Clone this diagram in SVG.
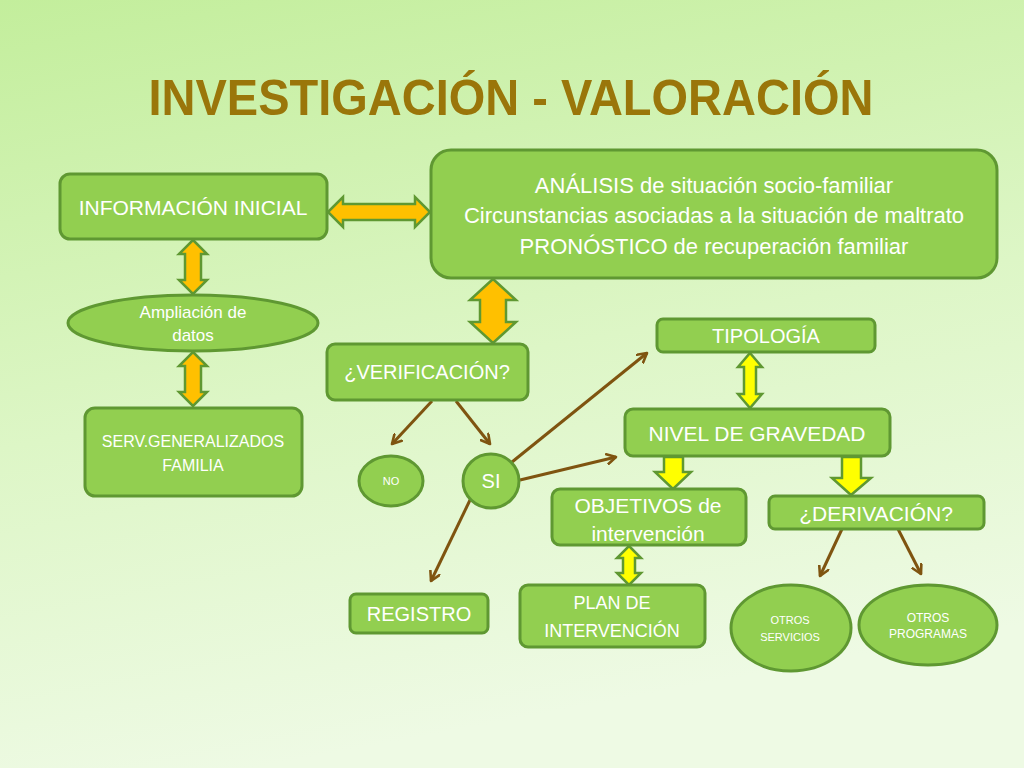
<svg xmlns="http://www.w3.org/2000/svg" width="1024" height="768" viewBox="0 0 1024 768">
<defs>
<linearGradient id="bg" x1="0" y1="0" x2="0.25" y2="1">
<stop offset="0" stop-color="#c3ee9c"/>
<stop offset="0.55" stop-color="#ddf6c6"/>
<stop offset="1" stop-color="#eefae4"/>
</linearGradient>
<marker id="ah" viewBox="0 0 12 12" refX="10" refY="6" markerWidth="12" markerHeight="12" markerUnits="userSpaceOnUse" orient="auto">
<path d="M1,1 L10,6 L1,11" fill="none" stroke="#7f5410" stroke-width="2.6" stroke-linecap="round" stroke-linejoin="round"/>
</marker>
</defs>
<style>
.box{fill:#92cf50;stroke:#5f9832;stroke-width:3}
.t{fill:#ffffff;font-family:"Liberation Sans",Arial,sans-serif;text-anchor:middle;dominant-baseline:central}
.or{fill:#ffc000;stroke:#5f9832;stroke-width:2.5;stroke-linejoin:miter}
.ye{fill:#ffff00;stroke:#5f9832;stroke-width:2.5}
.br{fill:none;stroke:#7f5410;stroke-width:3;marker-end:url(#ah)}
.title{fill:#9a760a;font-family:"Liberation Sans",Arial,sans-serif;font-weight:bold;font-size:50px;text-anchor:middle}
</style>
<rect width="1024" height="768" fill="url(#bg)"/>
<text class="title" x="511" y="115" textLength="725" lengthAdjust="spacingAndGlyphs">INVESTIGACIÓN - VALORACIÓN</text>

<g id="connectors">
<polygon class="or" points="328,212 343,197 343,204 415,204 415,197 430,212 415,227 415,220 343,220 343,227"/>
<polygon class="or" points="193,240 207,254 201,254 201,280 207,280 193,294 179,280 185,280 185,254 179,254"/>
<polygon class="or" points="193,352 207,366 201,366 201,392 207,392 193,406 179,392 185,392 185,366 179,366"/>
<polygon class="or" points="493,279 516,300 506,300 506,322 516,322 493,343 470,322 480,322 480,300 470,300"/>
<polygon class="ye" points="750,353 762,367 756,367 756,394 762,394 750,408 738,394 744,394 744,367 738,367"/>
<polygon class="ye" points="629,546 641,558 635,558 635,573 641,573 629,585 617,573 623,573 623,558 617,558"/>
<polygon class="ye" points="664,457 683,457 683,472 691,472 673,489 655,472 664,472"/>
<polygon class="ye" points="842,457 861,457 861,478 871,478 851,495 832,478 842,478"/>
<line class="br" x1="432" y1="401" x2="392" y2="444"/>
<line class="br" x1="456" y1="401" x2="490" y2="444"/>
<line class="br" x1="512" y1="462" x2="647" y2="353"/>
<line class="br" x1="520" y1="480" x2="616" y2="457"/>
<line class="br" x1="471" y1="498" x2="431" y2="581"/>
<line class="br" x1="842" y1="529" x2="820" y2="576"/>
<line class="br" x1="898" y1="529" x2="921" y2="574"/>
</g>

<g id="n-info">
<rect class="box" x="60" y="174" width="267" height="65" rx="10"/>
<text class="t" x="193" y="207" font-size="21">INFORMACIÓN INICIAL</text>
</g>
<g id="n-analisis">
<rect class="box" x="431" y="150" width="566" height="128" rx="20"/>
<text class="t" x="714" y="185" font-size="22">ANÁLISIS de situación socio-familiar</text>
<text class="t" x="714" y="215" font-size="22">Circunstancias asociadas a la situación de maltrato</text>
<text class="t" x="714" y="246" font-size="22">PRONÓSTICO de recuperación familiar</text>
</g>
<g id="n-ampliacion">
<ellipse class="box" cx="193" cy="323" rx="125" ry="28"/>
<text class="t" x="193" y="312" font-size="17">Ampliación de</text>
<text class="t" x="193" y="335" font-size="17">datos</text>
</g>
<g id="n-serv">
<rect class="box" x="85" y="408" width="217" height="88" rx="10"/>
<text class="t" x="193" y="441" font-size="16">SERV.GENERALIZADOS</text>
<text class="t" x="193" y="465" font-size="16">FAMILIA</text>
</g>
<g id="n-verificacion">
<rect class="box" x="327" y="344" width="201" height="56" rx="8"/>
<text class="t" x="427" y="372" font-size="20">¿VERIFICACIÓN?</text>
</g>
<g id="n-no">
<ellipse class="box" cx="391" cy="481" rx="32" ry="25"/>
<text class="t" x="391" y="481" font-size="11">NO</text>
</g>
<g id="n-si">
<ellipse class="box" cx="491" cy="481" rx="28" ry="27"/>
<text class="t" x="491" y="481" font-size="20">SI</text>
</g>
<g id="n-registro">
<rect class="box" x="350" y="594" width="138" height="39" rx="6"/>
<text class="t" x="419" y="614" font-size="20">REGISTRO</text>
</g>
<g id="n-tipologia">
<rect class="box" x="657" y="319" width="218" height="33" rx="6"/>
<text class="t" x="766" y="336" font-size="20">TIPOLOGÍA</text>
</g>
<g id="n-nivel">
<rect class="box" x="625" y="409" width="265" height="47" rx="8"/>
<text class="t" x="757" y="433" font-size="21">NIVEL DE GRAVEDAD</text>
</g>
<g id="n-objetivos">
<rect class="box" x="552" y="489" width="194" height="56" rx="8"/>
<text class="t" x="648" y="505" font-size="21">OBJETIVOS de</text>
<text class="t" x="648" y="533" font-size="21">intervención</text>
</g>
<g id="n-derivacion">
<rect class="box" x="769" y="496" width="215" height="33" rx="6"/>
<text class="t" x="876" y="513" font-size="21">¿DERIVACIÓN?</text>
</g>
<g id="n-plan">
<rect class="box" x="520" y="585" width="185" height="62" rx="8"/>
<text class="t" x="612" y="603" font-size="18">PLAN DE</text>
<text class="t" x="612" y="631" font-size="18">INTERVENCIÓN</text>
</g>
<g id="n-otros-servicios">
<ellipse class="box" cx="791" cy="628" rx="60" ry="43"/>
<text class="t" x="790" y="620" font-size="11">OTROS</text>
<text class="t" x="790" y="637" font-size="11">SERVICIOS</text>
</g>
<g id="n-otros-programas">
<ellipse class="box" cx="928" cy="625" rx="69" ry="40"/>
<text class="t" x="928" y="618" font-size="12">OTROS</text>
<text class="t" x="928" y="634" font-size="12">PROGRAMAS</text>
</g>
</svg>
